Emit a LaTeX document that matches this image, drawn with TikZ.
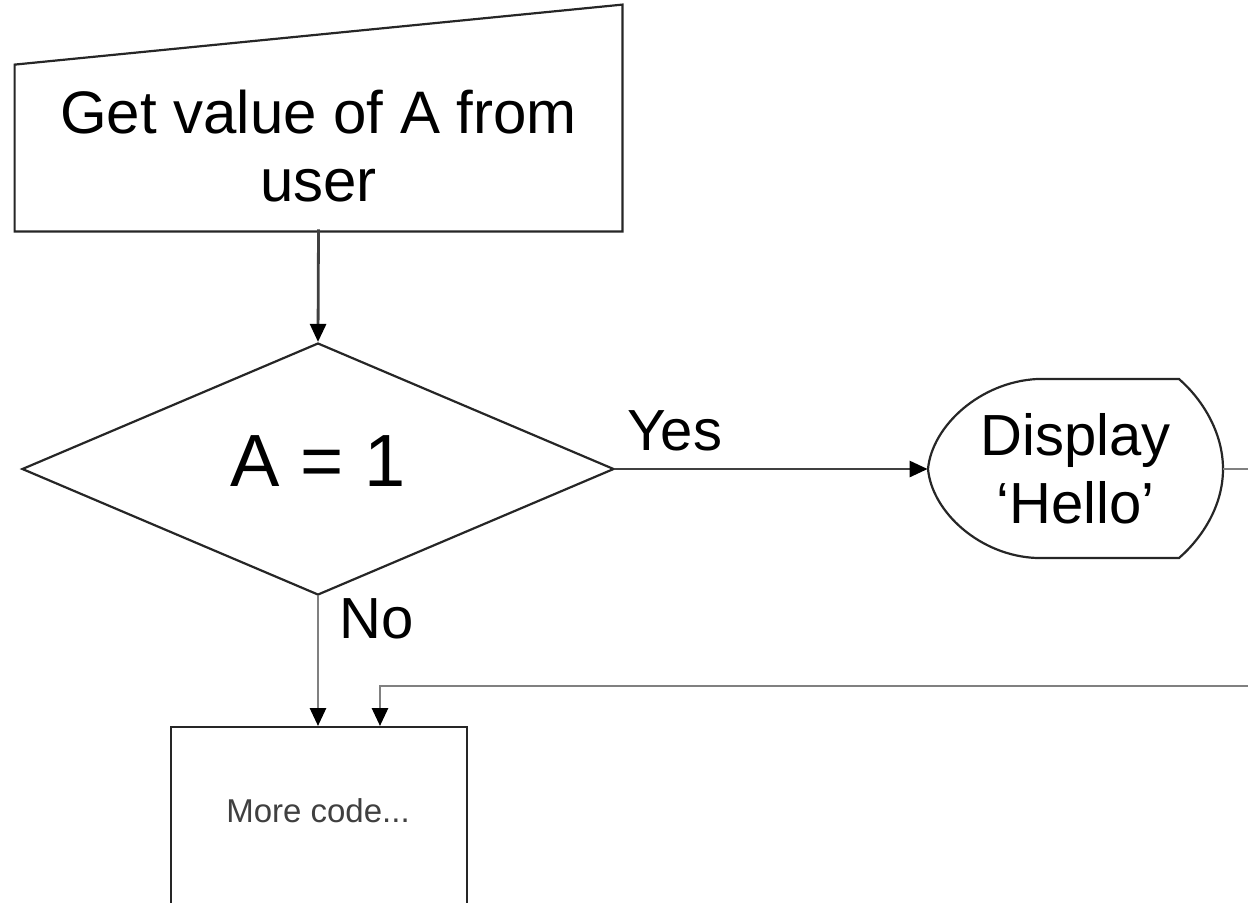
\documentclass[tikz,border=0pt]{standalone}
\usepackage{fontspec}
\setmainfont{Liberation Sans}
\usetikzlibrary{shapes.geometric,arrows.meta}

\tikzset{
  outline/.style={draw=black!85, line width=1.1pt},
  flow/.style={draw=black!50, line width=1.4pt,
    -{Triangle[length=9pt,width=8pt,color=black,fill=black]}},
  flowdark/.style={flow, draw=black!75},
  bigtext/.style={font=\fontsize{30pt}{34pt}\selectfont, align=center},
  edgetext/.style={font=\fontsize{29pt}{34pt}\selectfont, inner sep=0pt},
}

\begin{document}
\begin{tikzpicture}[x=0.5pt, y=-0.5pt]
  \useasboundingbox (0,0) rectangle (1248,902);
  \clip (0,0) rectangle (1248,902);

  % manual input: Get value of A from user
  \node[bigtext, minimum width=303.5pt, minimum height=83pt, inner sep=0pt]
    (input) at (318.5,146) {Get value of A from\\user};
  \draw[outline] ([yshift=-1pt]input.south west) -- ([yshift=-1pt]input.north west)
    -- ([yshift=29pt]input.north east) -- ([yshift=-1pt]input.south east) -- cycle;

  % decision
  \node[outline, diamond, aspect=2.35, minimum width=296pt, minimum height=126pt,
        inner sep=0pt, text depth=8pt, font=\fontsize{37pt}{40pt}\selectfont]
    (dec) at (318,469) {A = 1};

  % display: 'Hello'
  \node[font=\fontsize{29pt}{34pt}\selectfont, align=center,
        minimum width=147.5pt, minimum height=89pt, inner sep=0pt]
    (disp) at (1075.5,469) {Display\\‘Hello’};
  \draw[outline] (1037,379) -- (1179,379)
    .. controls (1202,399) and (1223,432) .. (1223,469)
    .. controls (1223,506) and (1202,538) .. (1179,558)
    -- (1037,558)
    .. controls (980,556) and (932,512) .. (928,469)
    .. controls (932,426) and (980,382) .. (1037,379) -- cycle;

  % following process box
  \node[outline, anchor=north, minimum width=148pt, minimum height=200pt,
        inner sep=0pt] (more) at (319,726) {};
  \node[font=\fontsize{16.5pt}{20pt}\selectfont, text=black!75]
    (morelbl) at (318,811) {More code...};

  % routing points for the return line
  \coordinate (offr) at (1300,0);
  \coordinate (ret) at (380,686);

  % connectors
  \draw[flowdark] (input.south) -- (dec.north);
  \draw[flowdark] (dec.east) -- (disp.west)
    node[pos=0, anchor=south west, edgetext, xshift=5.5pt, yshift=8.5pt] {Yes};
  \draw[flow] (dec.south) -- (dec.south |- more.north)
    node[pos=0, anchor=north west, edgetext, xshift=10pt, yshift=-0.5pt] {No};
  \draw[flow] (disp.east) -- (disp.east -| offr) |- (ret) -- (ret |- more.north);
\end{tikzpicture}
\end{document}
